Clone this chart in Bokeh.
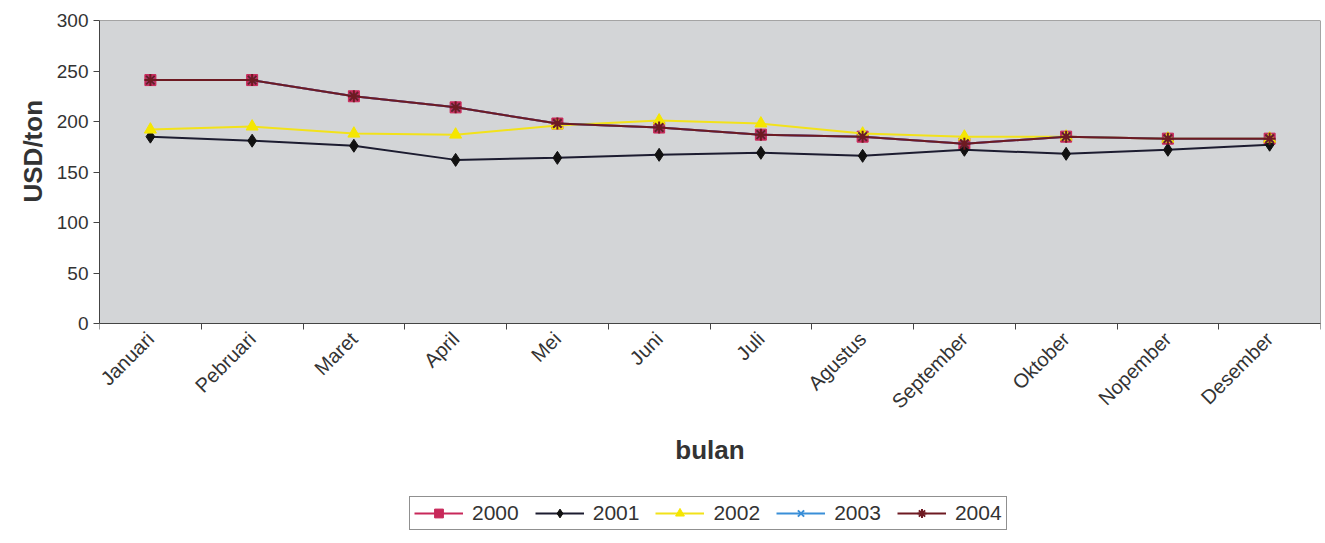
import math
from bokeh.plotting import figure
from bokeh.models import FixedTicker, Legend, LegendItem, Range1d, Title
from bokeh.embed import file_html
from bokeh.resources import INLINE

months = ["Januari", "Pebruari", "Maret", "April", "Mei", "Juni", "Juli",
          "Agustus", "September", "Oktober", "Nopember", "Desember"]
y2000 = [241, 241, 225, 214, 198, 194, 187, 185, 178, 185, 183, 183]
y2001 = [185, 181, 176, 162, 164, 167, 169, 166, 172, 168, 172, 177]
y2002 = [192, 195, 188, 187, 196, 201, 198, 188, 185, 185, 183, 183]
y2003 = [241, 241, 225, 214, 198, 194, 187, 185, 178, 185, 183, 183]
y2004 = [241, 241, 225, 214, 198, 194, 187, 185, 178, 185, 183, 183]
years = ["2000", "2001", "2002", "2003", "2004"]
yticks = [0, 50, 100, 150, 200, 250, 300]

xs = [i + 0.5 for i in range(len(months))]
FONT = "Liberation Sans"
YMAX = yticks[-1]
# frame extends below the plot area so the category labels, axis title and
# legend sit inside it (303 px for 300 units; 520 px frame)
YMIN = YMAX - 520 * YMAX / 303.0

p = figure(frame_width=1221, frame_height=520, output_backend="svg", toolbar_location=None,
           x_range=Range1d(0, len(months)), y_range=Range1d(YMIN, YMAX),
           min_border_top=20, min_border_left=99, min_border_right=4,
           min_border_bottom=0)
p.background_fill_color = "white"
p.border_fill_color = "white"
p.outline_line_color = None
p.grid.visible = False

# plot-area background panel
p.quad(left=[0], right=[len(months)], bottom=[0], top=[YMAX],
       fill_color="#d3d5d7", line_color="#555555", line_width=1)

xa = p.xaxis[0]
xa.fixed_location = 0
xa.ticker = FixedTicker(ticks=xs, minor_ticks=list(range(len(months) + 1)))
xa.major_label_overrides = {x: m for x, m in zip(xs, months)}
xa.major_tick_line_color = None
xa.minor_tick_line_color = "#444444"
xa.minor_tick_out = 6
xa.minor_tick_in = 0
xa.major_label_orientation = math.pi / 4
xa.major_label_text_font = FONT
xa.major_label_text_font_size = "20px"
xa.major_label_text_color = "#333333"
xa.major_label_standoff = 6
xa.axis_line_color = "#444444"
xa.axis_label = "bulan"
xa.axis_label_text_font = FONT
xa.axis_label_text_font_size = "26px"
xa.axis_label_text_font_style = "bold"
xa.axis_label_text_color = "#333333"
xa.axis_label_standoff = 12

ya = p.yaxis[0]
ya.bounds = (0, YMAX)
ya.ticker = FixedTicker(ticks=yticks)
ya.minor_tick_line_color = None
ya.major_tick_out = 6
ya.major_tick_in = 0
ya.major_tick_line_color = "#444444"
ya.axis_line_color = "#444444"
ya.major_label_text_font = FONT
ya.major_label_text_font_size = "19px"
ya.major_label_text_color = "#333333"
ya.major_label_standoff = 5
ya.axis_label = None

# y-axis title, centred on the 0..300 plot area (frame is taller than it)
ytitle = Title(text="USD/ton", align="left", offset=338, vertical_align="middle",
               text_font=FONT, text_font_size="26px", text_font_style="bold",
               text_color="#333333", standoff=10)
p.add_layout(ytitle, "left")

series = [
    (y2000, "#c8285a", "#c8285a", "square", 11),
    (y2001, "#1c1c30", "#111111", "diamond", 13),
    (y2002, "#f2e21a", "#f5e600", "triangle", 12),
    (y2003, "#3a8fd8", "#3a8fd8", "x", 11),
    (y2004, "#6e1a22", "#6e1a22", "asterisk", 12),
]
items = []
for yr, (ys, lc, mc, mk, sz) in zip(years, series):
    l = p.line(xs, ys, line_color=lc, line_width=2)
    s = p.scatter(xs, ys, marker=mk, size=sz, fill_color=mc, line_color=mc,
                  line_width=2 if mk in ("x", "asterisk") else 1)
    items.append(LegendItem(label=yr, renderers=[l, s]))

legend = Legend(items=items, orientation="horizontal", location=(310, 10))
legend.label_text_font = FONT
legend.label_text_font_size = "21px"
legend.label_text_color = "#333333"
legend.label_height = 22
legend.glyph_width = 49
legend.glyph_height = 22
legend.label_standoff = 9
legend.spacing = 16
legend.padding = 4
legend.margin = 0
legend.border_line_color = "#222222"
legend.background_fill_color = "white"
p.add_layout(legend, "center")

open("out.html", "w").write(file_html(p, INLINE))
